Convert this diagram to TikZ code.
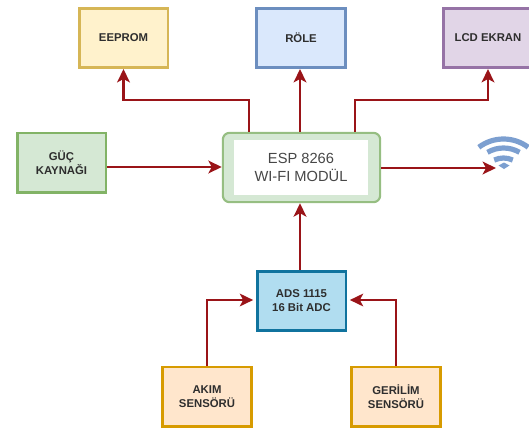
\documentclass[tikz,border=0pt]{standalone}
\usepackage{fontspec}
\setmainfont{Liberation Sans}
\usetikzlibrary{arrows.meta}
\definecolor{arrowred}{HTML}{9A1418}
\definecolor{wifiblue}{HTML}{7C9FD0}
\tikzset{
  x=0.75pt,y=-0.75pt,
  blockbox/.style={draw,line width=2pt,minimum width=66.5pt,minimum height=44.5pt,align=center,inner sep=0pt,font=\bfseries\fontsize{8.5}{10.6}\selectfont,text=black!82},
  link/.style={draw=arrowred,line width=1.7pt,-{Stealth[length=10pt,width=9.5pt,inset=2.5pt]}},
  wifiarc/.style={draw=wifiblue,line width=3.9pt},
}
\begin{document}
\begin{tikzpicture}
\useasboundingbox (0,0) rectangle (529,429);
\node[blockbox,draw={rgb,255:red,214;green,182;blue,86},fill={rgb,255:red,255;green,242;blue,204}] (eeprom) at (123.5,38) {EEPROM};
\node[blockbox,draw={rgb,255:red,108;green,142;blue,191},fill={rgb,255:red,218;green,232;blue,252}] (role) at (301,38) {RÖLE};
\node[blockbox,draw={rgb,255:red,150;green,115;blue,166},fill={rgb,255:red,225;green,213;blue,231}] (lcd) at (488,38) {LCD EKRAN};
\node[blockbox,draw={rgb,255:red,130;green,179;blue,102},fill={rgb,255:red,213;green,232;blue,212}] (guc) at (61.5,162.5) {GÜÇ\\KAYNAĞI};
\node[draw={rgb,255:red,150;green,190;blue,130},fill={rgb,255:red,213;green,232;blue,212},line width=1.6pt,rounded corners=5pt,minimum width=118pt,minimum height=52pt] (esp) at (301.5,167.5) {};
\node[fill=white,minimum width=100.5pt,minimum height=41pt,inner sep=0pt,align=center,font=\fontsize{11}{14}\selectfont,text=black!72] (espin) at (301,167.5) {ESP 8266\\WI-FI MODÜL};
\node[blockbox,draw={rgb,255:red,16;green,115;blue,158},fill={rgb,255:red,177;green,221;blue,240}] (ads) at (301.5,301) {ADS 1115\\16 Bit ADC};
\node[blockbox,draw={rgb,255:red,215;green,155;blue,0},fill={rgb,255:red,255;green,230;blue,204}] (akim) at (207,396.5) {AKIM\\SENSÖRÜ};
\node[blockbox,draw={rgb,255:red,215;green,155;blue,0},fill={rgb,255:red,255;green,230;blue,204}] (ger) at (396,396.5) {GERİLİM\\SENSÖRÜ};
% wifi symbol
\draw[wifiarc] (503.5,180) ++(127:41*0.75pt) arc[start angle=127,end angle=53,radius=41*0.75pt];
\draw[wifiarc] (503.5,180) ++(120:32*0.75pt) arc[start angle=120,end angle=60,radius=32*0.75pt];
\draw[wifiarc] (503.5,180) ++(115:22*0.75pt) arc[start angle=115,end angle=65,radius=22*0.75pt];
\fill[wifiblue] (504,162.5) -- (498.5,165.5) -- (504,169) -- (509.5,165.5) -- cycle;
% connectors
\coordinate (wifiin) at (496,168);
\coordinate (midx) at (300,0);
\coordinate (leftx) at (249,0);
\coordinate (rightx) at (355,0);
\coordinate (busy) at (0,100);
\coordinate (lefty) at (0,167);
\coordinate (adsy) at (0,300);
\draw[link] (leftx |- esp.north) -- (leftx |- busy) -- (eeprom.south |- busy) -- (eeprom.south);
\draw[link] (midx |- esp.north) -- (midx |- role.south);
\draw[link] (rightx |- esp.north) -- (rightx |- busy) -- (lcd.south |- busy) -- (lcd.south);
\draw[link] (guc.east |- lefty) -- (esp.west |- lefty);
\draw[link] (esp.east |- wifiin) -- (wifiin);
\draw[link] (midx |- ads.north) -- (midx |- esp.south);
\draw[link,shorten >=2pt] (akim.north) -- (akim.north |- adsy) -- (ads.west |- adsy);
\draw[link,shorten >=2pt] (ger.north) -- (ger.north |- adsy) -- (ads.east |- adsy);
\end{tikzpicture}
\end{document}
